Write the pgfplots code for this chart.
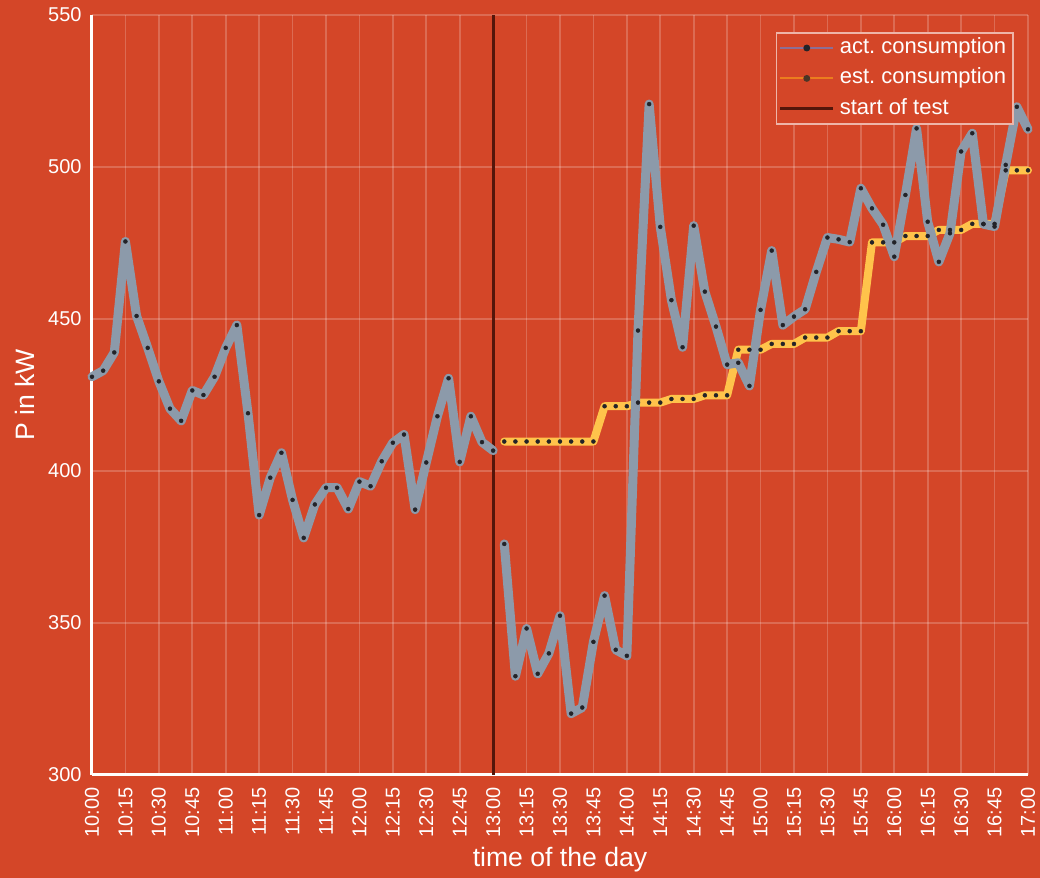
\documentclass[border=0pt]{standalone}
\usepackage{fontspec}
\setmainfont{Liberation Sans}
\usepackage{pgfplots}
\pgfplotsset{compat=1.18}
\definecolor{bgc}{RGB}{212,70,40}
\definecolor{actc}{RGB}{140,154,170}
\definecolor{estc}{RGB}{255,195,75}
\definecolor{startc}{RGB}{85,22,10}
\definecolor{markc}{RGB}{35,35,40}
\definecolor{actleg}{RGB}{140,110,150}
\definecolor{estleg}{RGB}{235,125,30}
\frenchspacing
\begin{document}
\begin{tikzpicture}
\path[fill=bgc, use as bounding box] (-46pt,-51.5pt) rectangle (474pt,387.5pt);
\begin{axis}[
  at={(0pt,0pt)}, anchor=south west,
  scale only axis, width=468pt, height=380pt,
  xmin=0, xmax=420, ymin=300, ymax=550,
  clip=false,
  axis x line=bottom, axis y line=left,
  axis line style={-, white, line width=1.5pt},
  xtick={0,15,...,420},
  xticklabels={10:00,10:15,10:30,10:45,11:00,11:15,11:30,11:45,12:00,12:15,12:30,12:45,13:00,13:15,13:30,13:45,14:00,14:15,14:30,14:45,15:00,15:15,15:30,15:45,16:00,16:15,16:30,16:45,17:00},
  ytick={300,350,...,550},
  major tick length=0pt,
  grid=major, grid style={white, opacity=0.2, line width=0.8pt},
  tick label style={white, font=\fontsize{10}{12}\selectfont},
  xticklabel style={rotate=90, anchor=east, inner xsep=6pt, inner ysep=0pt},
  yticklabel style={anchor=east, inner sep=0pt, xshift=-5pt},
  /pgf/number format/assume math mode=true,
  xlabel={time of the day}, ylabel={P in kW},
  label style={white, font=\fontsize{13.3}{16}\selectfont},
  xlabel style={at={(axis description cs:0.5,0)}, anchor=base, yshift=-46pt},
  ylabel style={at={(axis description cs:-0.0716,0.5)}, anchor=center},
  unbounded coords=jump,
  legend cell align=left,
  legend style={at={(rel axis cs:1,1)}, anchor=north east, xshift=-7pt, yshift=-8.5pt,
    fill=bgc, draw=white!60!bgc, line width=0.8pt, text=white,
    font=\fontsize{11}{13}\selectfont, inner xsep=1pt, inner ysep=0pt,
    nodes={inner xsep=2.5pt, inner ysep=2.1pt, text height=8.25pt, text depth=2.75pt}},
]
\addlegendimage{legend image code/.code={\draw[actleg, line width=1pt] (1.5pt,0pt) -- (28pt,0pt); \fill[markc] (14.75pt,0pt) circle (1.3pt);}}
\addlegendentry{act. consumption}
\addlegendimage{legend image code/.code={\draw[estleg, line width=1pt] (1.5pt,0pt) -- (28pt,0pt); \fill[markc!80!estleg] (14.75pt,0pt) circle (1.3pt);}}
\addlegendentry{est. consumption}
\addlegendimage{legend image code/.code={\draw[startc, line width=1.6pt] (1.5pt,0pt) -- (28pt,0pt);}}
\addlegendentry{start of test}

% start of test
\addplot[startc, line width=1.5pt, forget plot] coordinates {(180,300) (180,550)};

% estimated consumption
\addplot[estc, line width=4pt, line join=round, line cap=round, mark=*, mark size=1pt,
  mark options={draw=markc, fill=markc, line width=0.2pt}, forget plot] coordinates {
(185,409.7) (190,409.7) (195,409.7) (200,409.7) (205,409.7) (210,409.7) (215,409.7) (220,409.7) (225,409.7)
(230,421.3) (235,421.3) (240,421.3)
(245,422.5) (250,422.5) (255,422.5)
(260,423.7) (265,423.7) (270,423.7)
(275,424.9) (280,424.9) (285,424.9)
(290,439.9) (295,439.9) (300,439.9)
(305,441.8) (310,441.8) (315,441.8)
(320,443.9) (325,443.9) (330,443.9)
(335,446.0) (340,446.0) (345,446.0)
(350,475.2) (355,475.2) (360,475.2)
(365,477.3) (370,477.3) (375,477.3)
(380,479.3) (385,479.3) (390,479.3)
(395,481.3) (400,481.3) (405,481.3)
(410,498.9) (415,498.9) (420,498.9)
};

% actual consumption
\addplot[actc, line width=4.5pt, line join=round, line cap=round, mark=*, mark size=1pt,
  mark options={draw=markc, fill=markc, line width=0.2pt}, forget plot] coordinates {
(0,431) (5,433) (10,439) (15,475.5) (20,451) (25,440.5) (30,429.5) (35,420.5) (40,416.5) (45,426.5)
(50,425) (55,431) (60,440.5) (65,448) (70,419) (75,385.5) (80,397.8) (85,406) (90,390.5) (95,378)
(100,389) (105,394.5) (110,394.5) (115,387.5) (120,396.5) (125,395) (130,403.2) (135,409.3) (140,412) (145,387.3)
(150,402.8) (155,418) (160,430.5) (165,403) (170,418) (175,409.5) (180,406.7)
(182.5,nan)
(185,376) (190,332.5) (195,348.2) (200,333.3) (205,340) (210,352.4) (215,320.2) (220,322.2) (225,343.8) (230,359)
(235,341.2) (240,339.2) (245,446.2) (250,520.7) (255,480.3) (260,456.2) (265,440.7) (270,480.7) (275,459) (280,447.5)
(285,435) (290,435.6) (295,428) (300,453) (305,472.5) (310,448) (315,450.8) (320,453.2) (325,465.5) (330,476.8)
(335,476.2) (340,475.3) (345,493) (350,486.4) (355,481) (360,470.5) (365,490.8) (370,512.7) (375,482) (380,468.8)
(385,478.2) (390,505.1) (395,511.1) (400,481.2) (405,480.4) (410,500.7) (415,519.8) (420,512.4)
};
\end{axis}
\end{tikzpicture}
\end{document}
